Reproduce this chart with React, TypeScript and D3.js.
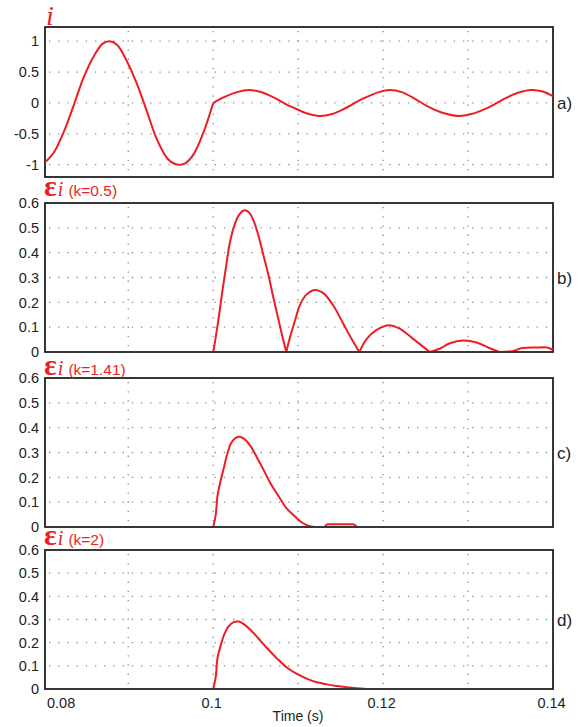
import React from "react";
import * as d3 from "d3";

// ---- data ----
const tA = [0.0803,0.0813,0.0825,0.0837,0.0848,0.0860,0.0870,0.0878,0.0887,0.0899,0.0911,0.0923,0.0934,0.0946,0.0955,0.0961,0.0967,0.0977,0.0989,0.1000,
  0.1012,0.1028,0.1042,0.1055,0.1071,0.1087,0.1100,0.1108,0.1124,0.1140,0.1155,0.1175,0.1195,0.1208,0.1222,0.1237,0.1253,0.1268,0.1288,0.1304,0.1323,0.1343,0.1358,0.1374,0.1388,0.1400];
const iA = [-0.95,-0.79,-0.44,0.01,0.43,0.77,0.96,1.0,0.94,0.66,0.28,-0.18,-0.6,-0.9,-0.99,-1.0,-0.98,-0.83,-0.46,0.0,
  0.09,0.175,0.21,0.18,0.09,-0.03,-0.11,-0.16,-0.21,-0.18,-0.09,0.06,0.175,0.21,0.175,0.07,-0.06,-0.15,-0.21,-0.18,-0.08,0.07,0.16,0.21,0.185,0.11];

const tB = [0.0802,0.1000,0.1003,0.1007,0.1011,0.1015,0.1019,0.1024,0.1030,0.1036,0.1042,0.1047,0.1053,0.1059,0.1065,0.1071,0.1077,0.1082,0.1086,
  0.1090,0.1097,0.1102,0.1110,0.1120,0.1130,0.1141,0.1153,0.1165,0.1172,0.1181,0.1192,0.1206,0.1219,0.1235,0.1255,0.1267,0.1278,0.1294,0.1310,0.1325,0.1337,0.1352,0.1364,0.1380,0.1393,0.1400];
const eB = [0,0,0.06,0.15,0.25,0.34,0.43,0.50,0.55,0.57,0.563,0.533,0.472,0.391,0.31,0.216,0.128,0.054,0.0,
  0.054,0.135,0.189,0.232,0.25,0.236,0.189,0.115,0.04,0.0,0.054,0.088,0.108,0.095,0.054,0.0,0.014,0.034,0.046,0.038,0.016,0.0,0.003,0.016,0.018,0.018,0.008];

const tC = [0.0802,0.1000,0.1003,0.1005,0.1009,0.1013,0.1017,0.1022,0.1030,0.1036,0.1044,0.1051,0.1059,0.1067,0.1077,0.1086,0.1096,0.1104,0.1112,0.1120,0.1131,0.1134,0.1166,0.1169,0.1400];
const eC = [0,0,0.05,0.124,0.19,0.245,0.30,0.343,0.363,0.356,0.326,0.283,0.232,0.178,0.124,0.077,0.043,0.019,0.005,0,0,0.011,0.011,0,0];

const tD = [0.0802,0.1000,0.1003,0.1005,0.1009,0.1013,0.1018,0.1024,0.1030,0.1036,0.1044,0.1053,0.1063,0.1075,0.1086,0.1098,0.1110,0.1121,0.1134,0.1145,0.1157,0.1169,0.1181,0.1400];
const eD = [0,0,0.052,0.132,0.19,0.236,0.27,0.289,0.291,0.28,0.255,0.219,0.178,0.132,0.095,0.066,0.045,0.03,0.02,0.013,0.008,0.003,0,0];

const ticksA = [-1, -0.5, 0, 0.5, 1];
const ticksE = [0, 0.1, 0.2, 0.3, 0.4, 0.5, 0.6];
const gridX = [0.09, 0.1, 0.11, 0.12, 0.13, 0.14];
const labelX = [0.08, 0.1, 0.12, 0.14];
const panelTags = ["a)", "b)", "c)", "d)"];
const kLabels = ["", "(k=0.5)", "(k=1.41)", "(k=2)"];
const cornersA = [0.1];
const cornersB = [0.1, 0.1086, 0.1172, 0.1255, 0.1337];
const cornersC = [0.1, 0.1120, 0.1131, 0.1134, 0.1166, 0.1169];
const cornersD = [0.1, 0.1181];

const RED = "#ee1d25";
const INK = "#222";
const LEFT = 45, RIGHT = 553;

const x = d3.scaleLinear().domain([0.0802, 0.14]).range([LEFT, RIGHT]);

const panels = [
  { t: tA, v: iA, top: 27, bottom: 177, dom: [-1.2, 1.23], ticks: ticksA, corners: cornersA, titleY: 25 },
  { t: tB, v: eB, top: 203, bottom: 352, dom: [0, 0.6], ticks: ticksE, corners: cornersB, titleY: 196 },
  { t: tC, v: eC, top: 378, bottom: 527, dom: [0, 0.6], ticks: ticksE, corners: cornersC, titleY: 375 },
  { t: tD, v: eD, top: 550, bottom: 689, dom: [0, 0.6], ticks: ticksE, corners: cornersD, titleY: 545 },
];

function splitSegments(t: number[], v: number[], corners: number[]) {
  const segs: [number, number][][] = [];
  let cur: [number, number][] = [];
  t.forEach((tt, i) => {
    cur.push([tt, v[i]]);
    if (corners.some((c) => Math.abs(c - tt) < 1e-7) && i < t.length - 1) {
      segs.push(cur);
      cur = [[tt, v[i]]];
    }
  });
  if (cur.length > 1) segs.push(cur);
  return segs;
}

const fmt = (d: number) => (d === 0 ? "0" : String(d));

export default function App() {
  return (
    <svg width={586} height={727} style={{ position: "absolute", left: 0, top: 0, background: "#fff" }}
      fontFamily="'Liberation Sans', Arial, sans-serif">
      <defs>
        {panels.map((p, k) => (
          <clipPath id={`clip${k}`} key={k}>
            <rect x={LEFT} y={p.top - 2} width={RIGHT - LEFT} height={p.bottom - p.top + 1} />
          </clipPath>
        ))}
      </defs>
      {panels.map((p, k) => {
        const y = d3.scaleLinear().domain(p.dom).range([p.bottom, p.top]);
        const line = d3.line<[number, number]>().x((d) => x(d[0])).y((d) => y(d[1])).curve(d3.curveCatmullRom.alpha(0.5));
        const segs = splitSegments(p.t, p.v, p.corners);
        return (
          <g key={k}>
            {/* grid */}
            {p.ticks.filter((tk) => y(tk) > p.top + 2 && y(tk) < p.bottom - 2).map((tk) => (
              <line key={"h" + tk} x1={LEFT + 4} x2={RIGHT} y1={y(tk)} y2={y(tk)} stroke="#8a8a8a"
                strokeWidth={1.3} strokeDasharray="1.3,7.9" />
            ))}
            {gridX.map((g) => (
              <line key={"v" + g} x1={x(g)} x2={x(g)} y1={p.top + 4} y2={p.bottom} stroke="#8a8a8a"
                strokeWidth={1.3} strokeDasharray="1.3,7.9" />
            ))}
            {/* box */}
            <rect x={LEFT} y={p.top} width={RIGHT - LEFT} height={p.bottom - p.top} fill="none" stroke={INK} strokeWidth={1.8} />
            {/* curve */}
            <g clipPath={`url(#clip${k})`}>
              {segs.map((s, j) => (
                <path key={j} d={line(s) || ""} fill="none" stroke={RED} strokeWidth={2} strokeLinejoin="round" />
              ))}
            </g>
            {/* y tick labels */}
            {p.ticks.map((tk) => (
              <text key={"yl" + tk} x={39} y={y(tk)} dy="0.36em" textAnchor="end" fontSize={14.5} fill={INK}>
                {fmt(tk)}
              </text>
            ))}
            {/* panel tag */}
            <text x={557} y={k === 0 ? y(0) : y(0.3)} dy="0.36em" fontSize={17} fill={INK}>{panelTags[k]}</text>
            {/* title */}
            {k === 0 ? (
              <text x={46} y={p.titleY} fill={RED} fontFamily="'Liberation Serif', 'DejaVu Serif', serif"
                fontStyle="italic" fontSize={28}>i</text>
            ) : (
              <text x={44} y={p.titleY} fill={RED}>
                <tspan fontFamily="'Liberation Serif', 'DejaVu Serif', serif" fontWeight="bold" fontSize={30}>ε</tspan>
                <tspan dx={1} fontFamily="'Liberation Serif', 'DejaVu Serif', serif" fontStyle="italic" fontSize={20}>i</tspan>
                <tspan dx={5} fontSize={15.5}>{kLabels[k]}</tspan>
              </text>
            )}
          </g>
        );
      })}
      {/* x tick labels */}
      {labelX.map((v) => (
        <text key={"xl" + v} x={v === 0.08 ? 47 : x(v) - 1.5} y={708} textAnchor={v === 0.08 ? "start" : "middle"}
          fontSize={14.5} fill={INK}>
          {String(v)}
        </text>
      ))}
      <text x={298} y={721} textAnchor="middle" fontSize={14} fill={INK}>Time (s)</text>
    </svg>
  );
}
